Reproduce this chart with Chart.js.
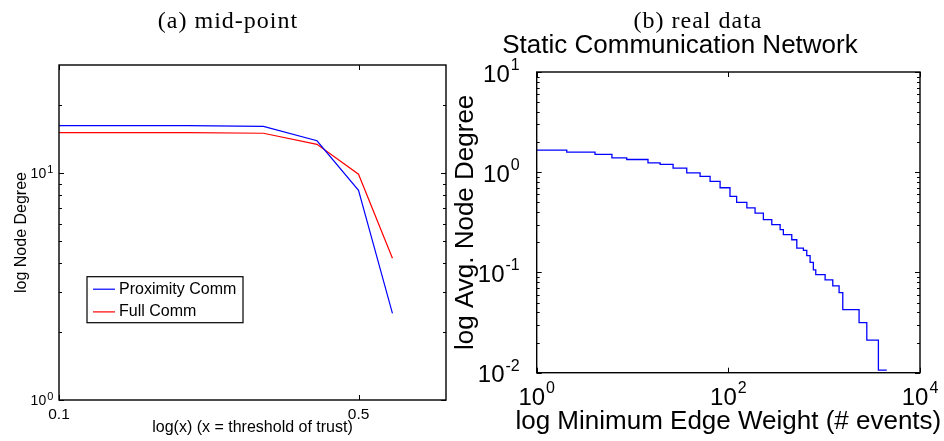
<!DOCTYPE html>
<html>
<head>
<meta charset="utf-8">
<script src="https://cdn.jsdelivr.net/npm/chart.js@4.4.0/dist/chart.umd.min.js"></script>
<style>
  html, body { margin: 0; padding: 0; background: #fff; }
  #wrap { position: relative; width: 944px; height: 441px; overflow: hidden; }
  canvas { position: absolute; top: 0; }
  .caption {
    position: absolute; font-family: "Liberation Serif", serif; font-size: 24px;
    letter-spacing: 1px; line-height: 1; white-space: nowrap; transform: translateX(-50%); color: #000;
  }
</style>
</head>
<body>
<div id="wrap">
  <canvas id="midPoint" width="472" height="441" style="left:0"></canvas>
  <canvas id="realData" width="504" height="441" style="left:440px"></canvas>
  <div class="caption" style="left:228px; top:8px">(a) mid-point</div>
  <div class="caption" style="left:698px; top:8px">(b) real data</div>
</div>
<script>
// (a) mid-point
const trustThreshold = [0.1, 0.2, 0.3, 0.4, 0.5, 0.6];
const proximityComm = [16.2, 16.2, 16.1, 13.9, 8.4, 2.41];
const fullComm = [15.1, 15.1, 15.0, 13.4, 9.9, 4.22];
const trustTicks = [0.1, 0.5];
const trustTickLabels = ['0.1', '0.5'];
const degreeTicks = [1, 10];
const degreeTickLabels = ['10^0', '10^1'];

// (b) real data
const edgeWeight = [1, 2.06, 4.06, 6.1, 8.7, 14.5, 19.4, 26.5, 36.8, 50.7, 64.5, 82, 104, 122, 156, 190,
  232, 284, 347, 375, 459, 518, 607, 658, 713, 771, 817, 1023, 1230, 1431, 1564, 2313, 2785, 3680, 4500];
const avgDegree = [1.66, 1.585, 1.51, 1.39, 1.34, 1.24, 1.20, 1.10, 0.985, 0.91, 0.81, 0.70, 0.575, 0.50, 0.44, 0.39,
  0.336, 0.30, 0.267, 0.238, 0.212, 0.175, 0.166, 0.147, 0.126, 0.106, 0.095, 0.0845, 0.0735, 0.063, 0.0426, 0.0316, 0.0211, 0.0106, 0.0106];
const weightTicks = [1, 100, 10000];
const weightTickLabels = ['10^0', '10^2', '10^4'];
const avgTicks = [0.01, 0.1, 1, 10];
const avgTickLabels = ['10^-2', '10^-1', '10^0', '10^1'];

const SANS = '"Liberation Sans", Arial, Helvetica, sans-serif';

// draws "10^n" with a real superscript, or a plain label
function drawTickLabel(ctx, text, x, y, mode, cfg) {
  const parts = text.split('^');
  const base = parts[0], exp = parts[1] || '';
  const size = exp ? cfg.base : (cfg.plain || cfg.base);
  ctx.font = size + 'px ' + SANS;
  const wb = ctx.measureText(base).width;
  let we = 0;
  if (exp) { ctx.font = cfg.exp + 'px ' + SANS; we = ctx.measureText(exp).width + 1; }
  const total = wb + we;
  const sx = mode === 'right' ? x - total : x - total / 2;
  // y is the baseline of the main digits
  ctx.font = size + 'px ' + SANS;
  ctx.fillText(base, sx, y);
  if (exp) {
    ctx.font = cfg.exp + 'px ' + SANS;
    const ey = y - 0.716 * cfg.base - cfg.raise + 0.716 * cfg.exp;
    ctx.fillText(exp, sx + wb + 1, ey);
  }
}

// matlab style box with inward tick marks and tick labels
const boxPlugin = {
  id: 'matlabBox',
  afterDraw(chart, args, opts) {
    const { ctx, chartArea: a, scales } = chart;
    const xs = scales.x, ys = scales.y;
    ctx.save();
    ctx.strokeStyle = '#000';
    ctx.lineWidth = 1;
    const seg = (x1, y1, x2, y2) => { ctx.beginPath(); ctx.moveTo(x1, y1); ctx.lineTo(x2, y2); ctx.stroke(); };
    const xTick = (v, len) => {
      const px = Math.round(xs.getPixelForValue(v)) + 0.5;
      seg(px, a.bottom, px, a.bottom - len);
      seg(px, a.top, px, a.top + len);
    };
    const yTick = (v, len) => {
      const py = Math.round(ys.getPixelForValue(v)) + 0.5;
      seg(a.left, py, a.left + len, py);
      seg(a.right, py, a.right - len, py);
    };
    xs.ticks.forEach(t => xTick(t.value, opts.major));
    ys.ticks.forEach(t => yTick(t.value, opts.major));
    if (opts.minorY) {
      const lo = Math.floor(Math.log10(ys.min)), hi = Math.ceil(Math.log10(ys.max));
      for (let d = lo; d <= hi; d++) {
        for (let k = 2; k <= 9; k++) {
          const v = k * Math.pow(10, d);
          if (v > ys.min && v < ys.max) yTick(v, opts.minor);
        }
      }
    }
    ctx.lineWidth = 1.4;
    ctx.strokeRect(a.left, a.top, a.right - a.left, a.bottom - a.top);

    ctx.fillStyle = '#000';
    ctx.textBaseline = 'alphabetic';
    ctx.textAlign = 'left';
    const xl = opts.xLabels, yl = opts.yLabels;
    xs.ticks.forEach((t, i) => {
      const px = xs.getPixelForValue(t.value);
      const size = xl.texts[i].includes('^') ? xl.base : (xl.plain || xl.base);
      drawTickLabel(ctx, xl.texts[i], px, a.bottom + xl.top + 0.716 * size, 'center', xl);
    });
    ys.ticks.forEach((t, i) => {
      const py = ys.getPixelForValue(t.value);
      drawTickLabel(ctx, yl.texts[i], a.left - yl.pad, py + 0.358 * yl.base + yl.dy, 'right', yl);
    });

    // axis titles wider than the plot (no squeezing)
    if (opts.titles) {
      const tt = opts.titles;
      ctx.font = tt.size + 'px ' + SANS;
      ctx.textAlign = 'center';
      ctx.textBaseline = 'middle';
      ctx.fillText(tt.x, (a.left + a.right) / 2, tt.xCenterY);
      ctx.translate(tt.yCenterX, (a.top + a.bottom) / 2);
      ctx.rotate(-Math.PI / 2);
      ctx.fillText(tt.y, 0, 0);
    }
    ctx.restore();
  }
};

// legend box inside the plot
const boxLegend = {
  id: 'boxLegend',
  afterDraw(chart, args, opts) {
    if (!opts.show) return;
    const { ctx, chartArea: a } = chart;
    const x = a.left + opts.dx, y = a.top + opts.dy;
    ctx.save();
    ctx.fillStyle = '#fff';
    ctx.fillRect(x, y, opts.w, opts.h);
    ctx.strokeStyle = '#000';
    ctx.lineWidth = 1.2;
    ctx.strokeRect(x, y, opts.w, opts.h);
    ctx.font = '16px ' + SANS;
    ctx.textBaseline = 'middle';
    chart.data.datasets.forEach((ds, i) => {
      const ly = y + 12.5 + i * 22.7;
      ctx.strokeStyle = ds.borderColor;
      ctx.lineWidth = 1.2;
      ctx.beginPath(); ctx.moveTo(x + 6, ly); ctx.lineTo(x + 28, ly); ctx.stroke();
      ctx.fillStyle = '#000';
      ctx.fillText(ds.label, x + 32, ly);
    });
    ctx.restore();
  }
};

function fixedTicks(values) {
  return scale => { scale.ticks = values.map(v => ({ value: v })); };
}

new Chart(document.getElementById('midPoint'), {
  type: 'line',
  data: {
    datasets: [
      { label: 'Proximity Comm', data: trustThreshold.map((x, i) => ({ x, y: proximityComm[i] })),
        borderColor: '#0000ff', borderWidth: 1.2, pointRadius: 0, tension: 0 },
      { label: 'Full Comm', data: trustThreshold.map((x, i) => ({ x, y: fullComm[i] })),
        borderColor: '#ff0000', borderWidth: 1.2, pointRadius: 0, tension: 0 }
    ]
  },
  options: {
    responsive: false,
    animation: false,
    devicePixelRatio: 1,
    layout: { padding: { left: 0, top: 65, right: 26, bottom: 0 } },
    plugins: {
      legend: { display: false },
      tooltip: { enabled: false },
      matlabBox: {
        major: 5, minor: 3, minorY: true,
        xLabels: { texts: trustTickLabels, base: 14, plain: 15.5, exp: 11, raise: 3, top: 8.3 },
        yLabels: { texts: degreeTickLabels, base: 14, exp: 11, raise: 3, pad: 5.7, dy: 0 }
      },
      boxLegend: { show: true, dx: 28, dy: 211.7, w: 156, h: 46 }
    },
    scales: {
      x: {
        type: 'logarithmic', min: 0.1, max: 0.8,
        afterBuildTicks: fixedTicks(trustTicks),
        afterFit: s => { s.height = 41; },
        grid: { display: false, drawTicks: false },
        border: { display: false },
        ticks: { display: false },
        title: { display: true, text: 'log(x) (x = threshold of trust)', color: '#000',
          font: { family: SANS, size: 16 }, padding: { top: 0, bottom: 4 } }
      },
      y: {
        type: 'logarithmic', min: 1, max: 30,
        afterBuildTicks: fixedTicks(degreeTicks),
        afterFit: s => { s.width = 59; },
        grid: { display: false, drawTicks: false },
        border: { display: false },
        ticks: { display: false },
        title: { display: true, text: 'log Node Degree', color: '#000',
          font: { family: SANS, size: 16 }, padding: { top: 12, bottom: 0 } }
      }
    }
  },
  plugins: [boxPlugin, boxLegend]
});

new Chart(document.getElementById('realData'), {
  type: 'line',
  data: {
    datasets: [
      { label: 'Static Communication Network', data: edgeWeight.map((x, i) => ({ x, y: avgDegree[i] })),
        borderColor: '#0000ff', borderWidth: 1.3, pointRadius: 0, stepped: true }
    ]
  },
  options: {
    responsive: false,
    animation: false,
    devicePixelRatio: 1,
    layout: { padding: { left: 0, top: 0, right: 24, bottom: 0 } },
    plugins: {
      legend: { display: false },
      tooltip: { enabled: false },
      title: { display: true, text: 'Static Communication Network', color: '#000',
        font: { family: SANS, size: 26, weight: 'normal' }, padding: { top: 30.5, bottom: 10.3 } },
      matlabBox: {
        major: 5, minor: 3, minorY: true,
        xLabels: { texts: weightTickLabels, base: 24, exp: 16, raise: 7, top: 15.6 },
        yLabels: { texts: avgTickLabels, base: 24, exp: 16, raise: 6, pad: 17, dy: 1 },
        titles: { size: 26, x: 'log Minimum Edge Weight (# events)', xCenterY: 422,
          y: 'log Avg. Node Degree', yCenterX: 26 }
      },
      boxLegend: { show: false }
    },
    scales: {
      x: {
        type: 'logarithmic', min: 1, max: 10000,
        afterBuildTicks: fixedTicks(weightTicks),
        afterFit: s => { s.height = 68.3; },
        grid: { display: false, drawTicks: false },
        border: { display: false },
        ticks: { display: false }
      },
      y: {
        type: 'logarithmic', min: 0.01, max: 10,
        afterBuildTicks: fixedTicks(avgTicks),
        afterFit: s => { s.width = 96.7; },
        grid: { display: false, drawTicks: false },
        border: { display: false },
        ticks: { display: false }
      }
    }
  },
  plugins: [boxPlugin]
});
</script>
</body>
</html>
